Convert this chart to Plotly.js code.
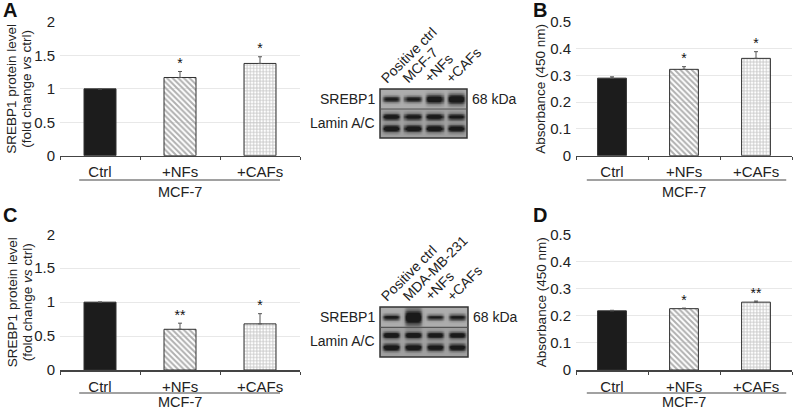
<!DOCTYPE html>
<html><head><meta charset="utf-8">
<script src="https://cdn.plot.ly/plotly-3.0.1.min.js"></script>
<style>html,body{margin:0;padding:0;background:#fff}#chart{width:795px;height:412px}</style>
</head><body><div id="chart"></div>
<script>
// ---------------- data ----------------
const categories = ['Ctrl', '+NFs', '+CAFs'];
const groupLabel = 'MCF-7';
const aValues = [1.0, 1.17, 1.38];
const aErrors = [0, 0.09, 0.10];
const aStars = ['', '*', '*'];
const bValues = [0.29, 0.323, 0.364];
const bErrors = [0.005, 0.01, 0.025];
const bStars = ['', '*', '*'];
const cValues = [1.0, 0.60, 0.68];
const cErrors = [0, 0.09, 0.15];
const cStars = ['', '**', '*'];
const dValues = [0.218, 0.226, 0.25];
const dErrors = [0.002, 0.002, 0.004];
const dStars = ['', '*', '**'];
const proteinTicks = [0, 0.5, 1, 1.5, 2];
const proteinTickText = ['0', '0.5', '1', '1.5', '2'];
const absorbTicks = [0, 0.1, 0.2, 0.3, 0.4, 0.5];
const absorbTickText = ['0', '0.1', '0.2', '0.3', '0.4', '0.5'];
const proteinTitleLines = ['SREBP1 protein level', '(fold change <i>vs</i> ctrl)'];
const absorbTitle = 'Absorbance (450 nm)';
const panelLetters = ['A', 'B', 'C', 'D'];
// western blots: lane names, rows, band intensity (0-1) and band half-height
const blotLanesA = ['Positive ctrl', 'MCF-7', '+NFs', '+CAFs'];
const blotLanesC = ['Positive ctrl', 'MDA-MB-231', '+NFs', '+CAFs'];
const blotRows = ['SREBP1', 'Lamin A/C'];
const markerLabel = '68 kDa';
const srebpA = [0.75, 0.75, 0.92, 0.97];
const srebpSizeA = [0.15, 0.15, 0.22, 0.25];
const laminTopA = [0.85, 0.8, 0.85, 0.75];
const laminBotA = [0.9, 0.9, 0.9, 0.85];
const srebpC = [0.78, 1.0, 0.72, 0.75];
const srebpSizeC = [0.14, 0.36, 0.13, 0.15];
const laminTopC = [0.85, 0.85, 0.8, 0.8];
const laminBotC = [0.9, 0.9, 0.85, 0.85];

// ---------------- helpers ----------------
const FONT = 'Liberation Sans, Arial, sans-serif';
const TXT = '#222';
const H = 412, W = 795;
const py = p => 1 - p / H;
const px = p => p / W;

const barMarker = {
  color: ['#1c1c1c', '#b0b0b0', '#c8c8c8'],
  line: {color: '#303030', width: 1},
  pattern: {shape: ['', '\\', '+'], fgcolor: ['#1c1c1c', '#2a2a2a', '#222222'], size: [4, 4, 3.2],
            solidity: [0.5, 0.5, 0.5], fillmode: 'replace',
            bgcolor: ['#1c1c1c', '#c4c4c4', '#d6d6d6']}
};

function barTraces(vals, errs, stars, xa, ya) {
  const zeros = vals.map(() => 0);
  return [
    {type: 'bar', x: categories, y: vals, xaxis: xa, yaxis: ya, width: 0.4,
     marker: barMarker,
     error_y: {type: 'data', array: errs, arrayminus: zeros, symmetric: false, color: '#555', thickness: 1, width: 2},
     hoverinfo: 'skip', showlegend: false},
    {type: 'scatter', mode: 'text', x: categories, y: vals.map((v, i) => v + errs[i]), text: stars,
     textposition: 'top center', textfont: {family: FONT, size: 14, color: '#111'},
     xaxis: xa, yaxis: ya, cliponaxis: false, hoverinfo: 'skip', showlegend: false}
  ];
}

// blot image built from the band arrays
const blotXs = [], blotYs = [];
for (let x = 0.025; x < 4; x += 0.05) blotXs.push(+x.toFixed(3));
for (let y = 0; y <= 2.45 + 1e-9; y += 0.035) blotYs.push(+y.toFixed(3));
function blotTrace(srebp, size, lamTop, lamBot, xa, ya) {
  const z = blotYs.map(y => blotXs.map(x => {
    const lane = Math.min(3, Math.floor(x));
    const h = Math.exp(-Math.pow((x - lane - 0.5) / 0.4, 6));
    let v = y < 1 ? 0.28 : 0.34;
    v += srebp[lane] * h * Math.exp(-Math.pow((y - 0.5) / size[lane], 2));
    v += lamTop[lane] * h * Math.exp(-Math.pow((y - 1.38) / 0.16, 2));
    v += lamBot[lane] * h * Math.exp(-Math.pow((y - 1.97) / 0.17, 2));
    return Math.min(1, v);
  }));
  return {type: 'heatmap', x: blotXs, y: blotYs, z: z, xaxis: xa, yaxis: ya, zmin: 0, zmax: 1, zsmooth: 'best',
          colorscale: [[0, '#e6e6e6'], [0.5, '#808080'], [1, '#1a1a1a']], showscale: false, hoverinfo: 'skip'};
}

const data = [].concat(
  barTraces(aValues, aErrors, aStars, 'x', 'y'),
  barTraces(bValues, bErrors, bStars, 'x2', 'y2'),
  barTraces(cValues, cErrors, cStars, 'x3', 'y3'),
  barTraces(dValues, dErrors, dStars, 'x4', 'y4'),
  [blotTrace(srebpA, srebpSizeA, laminTopA, laminBotA, 'x5', 'y5'),
   blotTrace(srebpC, srebpSizeC, laminTopC, laminBotC, 'x6', 'y6')]
);

function xAxis(dom, anchor) {
  return {domain: dom, anchor: anchor, type: 'category', range: [-0.5, 2.5], showline: true, linecolor: '#444',
          linewidth: 1.5, ticks: 'outside', ticklen: 3, tickcolor: '#444', tickson: 'boundaries', showgrid: false,
          zeroline: false, ticklabelstandoff: 2, tickfont: {family: FONT, size: 15, color: TXT}, fixedrange: true};
}
function yAxis(dom, anchor, range, tv, tt) {
  return {domain: dom, anchor: anchor, range: range, tickvals: tv, ticktext: tt, showgrid: true, gridcolor: '#e8e8e8',
          gridwidth: 1, zeroline: false, showline: false, ticks: '', ticklabelstandoff: 4,
          tickfont: {family: FONT, size: 15, color: TXT}, fixedrange: true};
}
const topY = [py(155.7), py(22)];
const botY = [py(370), py(234.3)];
const leftX = [px(60), px(300)];
const rightX = [px(576), px(792)];
const blotA = {x: [px(380), px(467)], y: [py(138), py(89)]};
const blotC = {x: [px(380), px(468)], y: [py(357), py(307)]};

const layout = {
  width: W, height: H, margin: {l: 0, r: 0, t: 0, b: 0}, paper_bgcolor: '#fff', plot_bgcolor: 'rgba(0,0,0,0)',
  font: {family: FONT, color: TXT}, showlegend: false, bargap: 0.6,
  xaxis: xAxis(leftX, 'y'), yaxis: yAxis(topY, 'x', [0, 2], proteinTicks, proteinTickText),
  xaxis2: xAxis(rightX, 'y2'), yaxis2: yAxis(topY, 'x2', [0, 0.5], absorbTicks, absorbTickText),
  xaxis3: xAxis(leftX, 'y3'), yaxis3: yAxis(botY, 'x3', [0, 2], proteinTicks, proteinTickText),
  xaxis4: xAxis(rightX, 'y4'), yaxis4: yAxis(botY, 'x4', [0, 0.5], absorbTicks, absorbTickText),
  xaxis5: {domain: blotA.x, anchor: 'y5', range: [0, 4], visible: false, fixedrange: true},
  yaxis5: {domain: blotA.y, anchor: 'x5', range: [2.45, 0], visible: false, fixedrange: true},
  xaxis6: {domain: blotC.x, anchor: 'y6', range: [0, 4], visible: false, fixedrange: true},
  yaxis6: {domain: blotC.y, anchor: 'x6', range: [2.45, 0], visible: false, fixedrange: true},
  shapes: [],
  annotations: []
};

// group underline + label
function group(xr, yLine, yText, x0, x1) {
  layout.shapes.push({type: 'line', xref: xr, yref: 'paper', x0: x0, x1: x1, y0: py(yLine), y1: py(yLine),
                      line: {color: '#444', width: 1.2}});
  layout.annotations.push({xref: xr, yref: 'paper', x: 1, y: py(yText), xanchor: 'center', yanchor: 'middle',
                           text: groupLabel, showarrow: false, font: {family: FONT, size: 14.5, color: TXT}});
}
group('x', 180, 192, -0.26, 2.25);
group('x2', 180, 192, -0.35, 2.42);
group('x3', 393, 402, -0.26, 2.25);
group('x4', 393, 402, -0.35, 2.42);

// axis titles
function vTitle(yr, xPix, text) {
  layout.annotations.push({xref: 'paper', yref: yr + ' domain', x: px(xPix), y: 0.5, xanchor: 'center',
                           yanchor: 'middle', text: text, textangle: -90,
                           showarrow: false, font: {family: FONT, size: 13.5, color: TXT}});
}
['y', 'y3'].forEach(yr => { vTitle(yr, 12, proteinTitleLines[0]); vTitle(yr, 27, proteinTitleLines[1]); });
['y2', 'y4'].forEach(yr => vTitle(yr, 541, absorbTitle));

// panel letters
[[1, 0], [531, 0], [1, 205], [531, 205]].forEach((p, i) => {
  layout.annotations.push({xref: 'paper', yref: 'paper', x: px(p[0]), y: py(p[1]), xanchor: 'left', yanchor: 'top',
                           yshift: 3, text: '<b>' + panelLetters[i] + '</b>', showarrow: false,
                           font: {family: FONT, size: 20, color: '#111'}});
});

// blots: frame, separator, row labels, lane labels
function blotDecor(xa, ya, lanes) {
  layout.shapes.push({type: 'rect', xref: xa + ' domain', yref: ya + ' domain', x0: 0, x1: 1, y0: 0, y1: 1,
                      line: {color: '#333', width: 1.5}});
  layout.shapes.push({type: 'line', xref: xa + ' domain', yref: ya, x0: 0, x1: 1, y0: 1, y1: 1,
                      line: {color: '#555', width: 1.2}});
  [[0.5, blotRows[0]], [1.68, blotRows[1]]].forEach(r => {
    layout.annotations.push({xref: xa + ' domain', yref: ya, x: 0, y: r[0], xanchor: 'right', yanchor: 'middle',
                             xshift: -3, text: r[1], showarrow: false, font: {family: FONT, size: 14, color: TXT}});
  });
  layout.annotations.push({xref: xa + ' domain', yref: ya, x: 1, y: 0.5, xanchor: 'left', yanchor: 'middle', xshift: 3,
                           text: markerLabel, showarrow: false, font: {family: FONT, size: 14, color: TXT}});
  lanes.forEach((l, i) => {
    layout.annotations.push({xref: xa, yref: ya + ' domain', x: i + 0.5, y: 1, xanchor: 'left', yanchor: 'bottom',
                             xshift: -16, yshift: 0, textangle: -45, text: l, showarrow: false,
                             font: {family: FONT, size: 14, color: TXT}});
  });
}
blotDecor('x5', 'y5', blotLanesA);
blotDecor('x6', 'y6', blotLanesC);

Plotly.newPlot('chart', data, layout, {staticPlot: true, displayModeBar: false});
</script></body></html>
